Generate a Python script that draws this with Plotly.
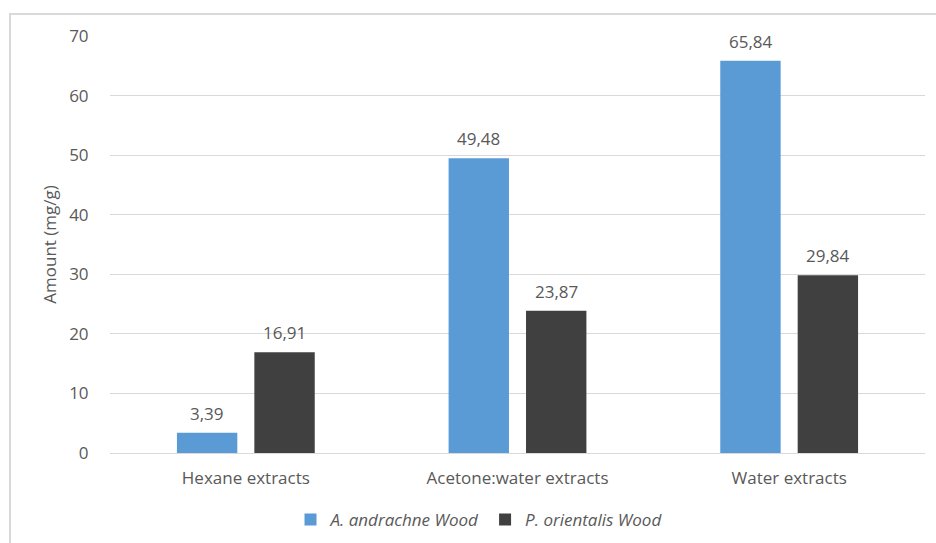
import plotly.graph_objects as go

categories = ["Hexane extracts", "Acetone:water extracts", "Water extracts"]
andrachne = [3.39, 49.48, 65.84]
orientalis = [16.91, 23.87, 29.84]
y_ticks = [0, 10, 20, 30, 40, 50, 60, 70]

FONT = "Open Sans"
TXT = "#595959"
SIZE = 17

fig = go.Figure()
fig.add_trace(go.Bar(
    x=categories, y=andrachne, name="A. andrachne Wood",
    marker=dict(color="#5B9BD5", line=dict(width=0)),
))
fig.add_trace(go.Bar(
    x=categories, y=orientalis, name="P. orientalis Wood",
    marker=dict(color="#404040", line=dict(width=0)),
))

# value labels above each bar (decimal comma)
def fmt(v):
    return f"{v:.2f}".replace(".", ",")

for series, shift in ((andrachne, -38.6), (orientalis, 38.6)):
    for cat, v in zip(categories, series):
        fig.add_annotation(x=cat, y=v, text=fmt(v), showarrow=False,
                           xshift=shift, yshift=6, yanchor="bottom",
                           font=dict(family=FONT, size=SIZE, color=TXT))

# outer chart frame
fig.add_shape(type="rect", xref="paper", yref="paper",
              x0=(10 - 110) / 815, x1=1.2, y0=-0.5, y1=(453 - 14) / 417,
              line=dict(color="#d9d9d9", width=2), fillcolor="rgba(0,0,0,0)", layer="below")

fig.update_layout(
    width=936, height=543,
    margin=dict(l=110, r=11, t=36, b=90),
    paper_bgcolor="white", plot_bgcolor="white",
    barmode="group", bargap=0.43, bargroupgap=0.22,
    font=dict(family=FONT, size=SIZE, color=TXT),
    showlegend=True,
    legend=dict(orientation="h", xref="container", x=479 / 936, xanchor="center",
                yref="container", y=1 - 520 / 543, yanchor="middle",
                font=dict(family=FONT, size=SIZE, color=TXT, style="italic"),
                itemwidth=30, traceorder="normal"),
    xaxis=dict(showgrid=False, showline=True, linecolor="#d9d9d9", linewidth=1,
               ticks="outside", ticklen=10, tickcolor="rgba(0,0,0,0)",
               tickfont=dict(family=FONT, size=SIZE, color=TXT)),
    yaxis=dict(range=[0, 70], tickvals=y_ticks, showgrid=True, gridcolor="#d9d9d9",
               gridwidth=1, zeroline=False, showline=False,
               ticks="outside", ticklen=17, tickcolor="rgba(0,0,0,0)",
               tickfont=dict(family=FONT, size=SIZE, color=TXT),
               title=dict(text="Amount (mg/g)", font=dict(family=FONT, size=SIZE, color=TXT),
                          standoff=8)),
)

fig.write_html("out.html")
